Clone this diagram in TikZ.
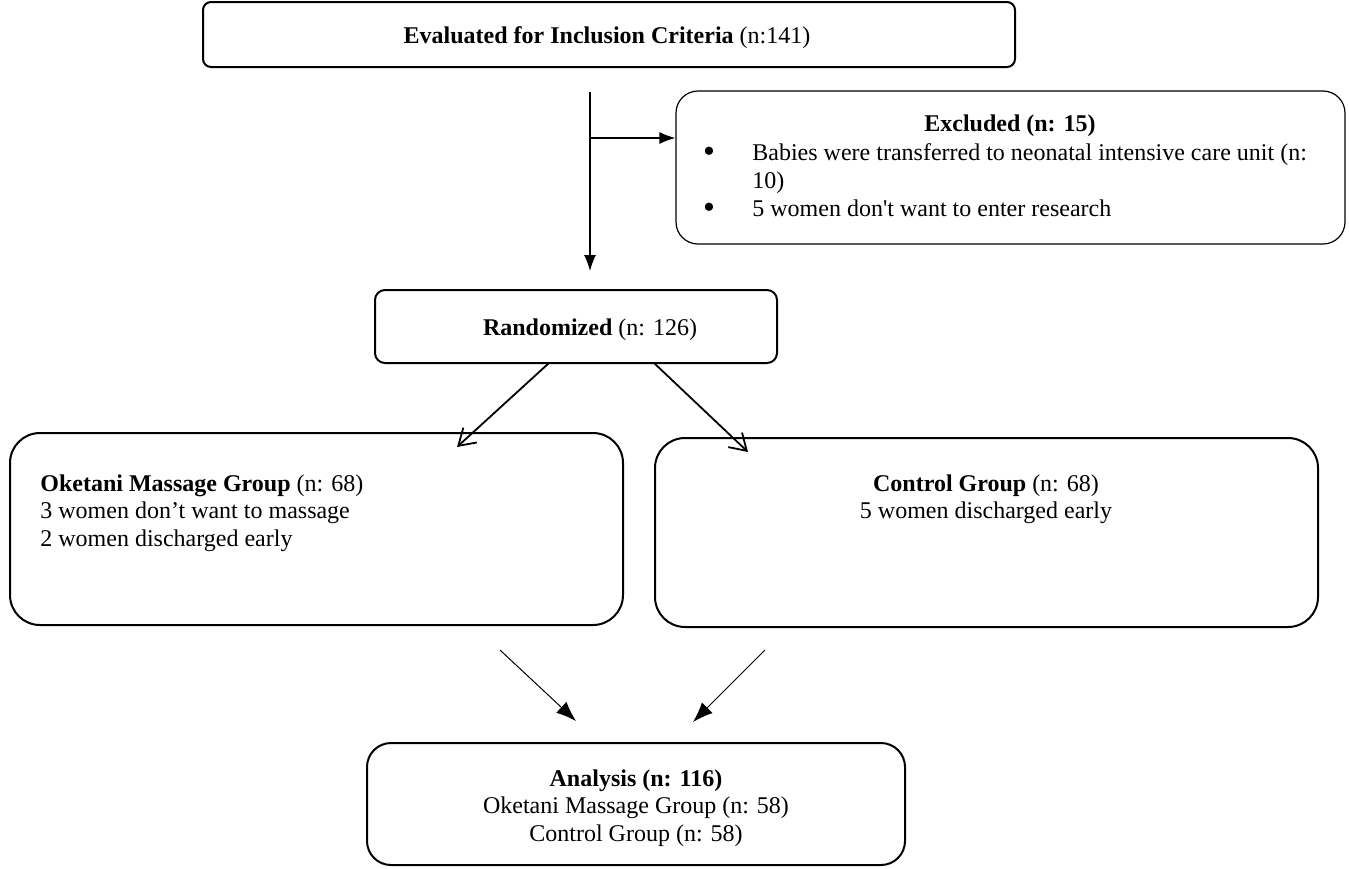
\documentclass[tikz,border=0pt]{standalone}
\usepackage{fontspec}
\setmainfont{Liberation Serif}
\usetikzlibrary{arrows.meta}
\begin{document}
\begin{tikzpicture}[x=0.5pt,y=-0.5pt,
  box/.style={draw, line width=1pt, inner sep=0pt},
  txt/.style={inner sep=0pt, font=\fontsize{12pt}{13.8pt}\selectfont},
  lline/.style={txt, anchor=base west},
  cline/.style={txt, anchor=base},
  bul/.style={inner sep=0pt, anchor=base, font=\fontsize{17pt}{17pt}\selectfont},
  solidarrow/.style={-{Latex[length=8pt,width=6pt]}, line width=0.6pt},
  thinarrow/.style={-{Latex[length=10pt,width=7.5pt]}, line width=0.5pt},
  openarrow/.style={-{Straight Barb[length=8pt,width=10pt]}, line width=0.9pt}]
\useasboundingbox (0,0) rectangle (1349,868);

% boxes
\node[box, rounded corners=4pt, minimum width=406pt, minimum height=32.5pt] (eval) at (609,34.5) {};
\node[box, line width=0.6pt, rounded corners=11pt, minimum width=334.5pt, minimum height=76.5pt] (exc) at (1010.5,167.5) {};
\node[box, rounded corners=5pt, minimum width=201pt, minimum height=36.5pt] (ran) at (576,326.5) {};
\node[box, rounded corners=15pt, minimum width=306.5pt, minimum height=96pt] (oke) at (316.5,529) {};
\node[box, rounded corners=15pt, minimum width=331.5pt, minimum height=94.5pt] (con) at (986.5,532.5) {};
\node[box, rounded corners=12pt, minimum width=269pt, minimum height=61pt] (ana) at (636,804) {};

% texts
\node[cline] (evalt) at (607,43) {\textbf{Evaluated for Inclusion Criteria} (n:141)};
\node[cline] (exct) at (1010,131) {\textbf{Excluded (n: 15)}};
\node[bul] (b1) at (709,162) {\textbullet};
\node[lline] (e1) at (752,160) {Babies were transferred to neonatal intensive care unit (n:};
\node[lline] (e2) at (752,188) {10)};
\node[bul] (b2) at (709,218) {\textbullet};
\node[lline] (e3) at (752,216) {5 women don\textquotesingle t want to enter research};
\node[cline] (rant) at (590,335) {\textbf{Randomized} (n: 126)};
\node[lline] (o1) at (40,491) {\textbf{Oketani Massage Group} (n: 68)};
\node[lline] (o2) at (40,518.6) {3 women don’t want to massage};
\node[lline] (o3) at (40,546.2) {2 women discharged early};
\node[cline] (c1) at (986,491) {\textbf{Control Group} (n: 68)};
\node[cline] (c2) at (986,518.6) {5 women discharged early};
\node[cline] (a1) at (636,786) {\textbf{Analysis (n: 116)}};
\node[cline] (a2) at (636,813.6) {Oketani Massage Group (n: 58)};
\node[cline] (a3) at (636,841.2) {Control Group (n: 58)};

% connector coordinates
\coordinate (vtop) at (590,92);
\coordinate (vend) at (590,271);
\coordinate (hb) at (590,138);
\coordinate (r1) at (549,363);
\coordinate (r1e) at (457,447);
\coordinate (r2) at (654,363);
\coordinate (r2e) at (748,452);
\coordinate (ok1) at (500,650);
\coordinate (ok1e) at (576,721);
\coordinate (co1) at (765,650);
\coordinate (co1e) at (693,722);

% connectors
\draw[solidarrow] (vtop) -- (vend);
\draw[solidarrow] (hb) -- (hb -| exc.west);
\draw[openarrow] (r1) -- (r1e);
\draw[openarrow] (r2) -- (r2e);
\draw[thinarrow] (ok1) -- (ok1e);
\draw[thinarrow] (co1) -- (co1e);
\end{tikzpicture}
\end{document}
